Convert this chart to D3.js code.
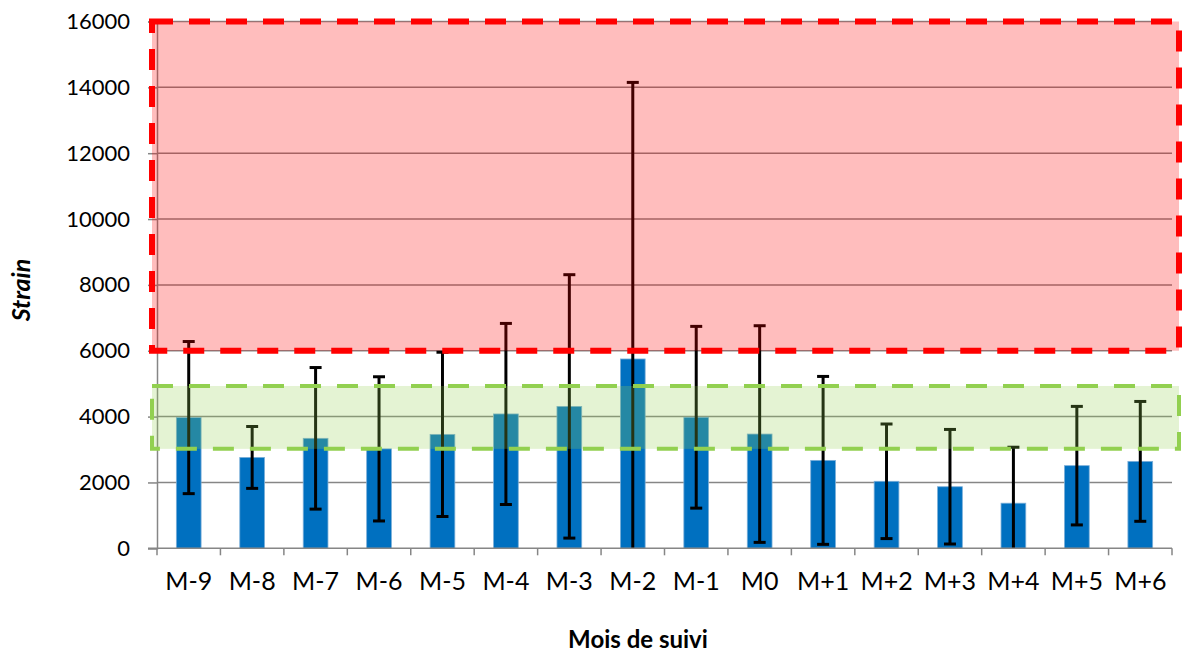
<!DOCTYPE html>
<html>
<head>
<meta charset="utf-8">
<script src="https://cdn.jsdelivr.net/npm/d3@7"></script>
<style>
  body { margin: 0; background: #fff; }
  svg { display: block; font-family: Lato, "Open Sans", sans-serif; }
</style>
</head>
<body>
<svg id="canvas" width="1182" height="656"></svg>
<script>

// months of follow-up
let months = ["M-9", "M-8", "M-7", "M-6", "M-5", "M-4", "M-3", "M-2",
              "M-1", "M0", "M+1", "M+2", "M+3", "M+4", "M+5", "M+6"];
// mean strain per month
let strainMean = [3970, 2760, 3340, 3020, 3460, 4080, 4310, 5750,
                  3980, 3470, 2670, 2035, 1870, 1370, 2510, 2640];
// standard deviation (error bars)
let strainSd = [2310, 940, 2150, 2190, 2495, 2750, 4000, 8400,
                2760, 3290, 2550, 1740, 1740, 1700, 1800, 1820];
let yTicks = [0, 2000, 4000, 6000, 8000, 10000, 12000, 14000, 16000];
// highlighted zones
let redZone = [6000, 16000];
let greenZone = [3020, 4930];

let svg = d3.select('#canvas');

const plotLeft = 157, plotRight = 1172, plotTop = 21.5, plotBottom = 548.3;

let x = d3.scaleBand()
    .domain(months)
    .range([plotLeft, plotRight])
    .paddingInner(0.61)
    .paddingOuter(0.305);

let y = d3.scaleLinear()
    .domain([0, 16000])
    .range([plotBottom, plotTop]);

let band = (plotRight - plotLeft) / months.length;

// gridlines
svg.append('g')
    .selectAll('line')
    .data(yTicks.slice(1))
    .join('line')
    .attr('x1', plotLeft)
    .attr('x2', plotRight)
    .attr('y1', d => y(d))
    .attr('y2', d => y(d))
    .attr('stroke', '#868686')
    .attr('stroke-width', 1.5);

// bars
svg.append('g')
    .selectAll('rect')
    .data(months)
    .join('rect')
    .attr('x', d => x(d))
    .attr('width', x.bandwidth())
    .attr('y', (d, i) => y(strainMean[i]))
    .attr('height', (d, i) => y(0) - y(strainMean[i]))
    .attr('fill', '#0070c0')
    .attr('stroke', '#7aaed8')
    .attr('stroke-width', 0.8);

// error bars (mean +/- sd, cut at 0)
let errs = months.map((m, i) => ({
    m: m,
    hi: strainMean[i] + strainSd[i],
    lo: Math.max(0, strainMean[i] - strainSd[i]),
    clipped: strainMean[i] - strainSd[i] <= 0
}));

let eg = svg.append('g');
let cx = d => x(d.m) + x.bandwidth() / 2;

eg.selectAll('line.stem')
    .data(errs)
    .join('line')
    .attr('class', 'stem')
    .attr('x1', cx).attr('x2', cx)
    .attr('y1', d => y(d.hi)).attr('y2', d => y(d.lo))
    .attr('stroke', '#000')
    .attr('stroke-width', 3);

eg.selectAll('line.capHi')
    .data(errs)
    .join('line')
    .attr('class', 'capHi')
    .attr('x1', d => cx(d) - 6).attr('x2', d => cx(d) + 6)
    .attr('y1', d => y(d.hi)).attr('y2', d => y(d.hi))
    .attr('stroke', '#000')
    .attr('stroke-width', 3);

eg.selectAll('line.capLo')
    .data(errs.filter(d => !d.clipped))
    .join('line')
    .attr('class', 'capLo')
    .attr('x1', d => cx(d) - 6).attr('x2', d => cx(d) + 6)
    .attr('y1', d => y(d.lo)).attr('y2', d => y(d.lo))
    .attr('stroke', '#000')
    .attr('stroke-width', 3);

// axes
let yAxis = svg.append('g')
    .attr('transform', `translate(${plotLeft},0)`)
    .call(d3.axisLeft(y).tickValues(yTicks).tickSize(9).tickPadding(18).tickFormat(d3.format('d')));
yAxis.select('.domain').attr('stroke', '#868686').attr('stroke-width', 1.5);
yAxis.selectAll('.tick line').attr('stroke', '#868686').attr('stroke-width', 1.5);
yAxis.selectAll('.tick text')
    .attr('font-size', 22)
    .attr('font-family', 'Lato, sans-serif')
    .attr('fill', '#000');

let xAxis = svg.append('g')
    .attr('transform', `translate(0,${plotBottom})`)
    .call(d3.axisBottom(x).tickSize(0).tickPadding(24));
xAxis.select('.domain').remove();
xAxis.selectAll('.tick text')
    .attr('font-size', 25)
    .attr('font-family', 'Lato, sans-serif')
    .attr('fill', '#000');

svg.append('line')
    .attr('x1', plotLeft - 9).attr('x2', plotRight)
    .attr('y1', plotBottom).attr('y2', plotBottom)
    .attr('stroke', '#868686').attr('stroke-width', 1.5);

// x ticks at band boundaries
svg.append('g')
    .selectAll('line')
    .data(d3.range(months.length + 1))
    .join('line')
    .attr('x1', i => plotLeft + i * band)
    .attr('x2', i => plotLeft + i * band)
    .attr('y1', plotBottom).attr('y2', plotBottom + 7)
    .attr('stroke', '#868686').attr('stroke-width', 1.5);

// zones on top, semi-transparent
svg.append('rect')
    .attr('x', plotLeft - 5)
    .attr('width', plotRight - plotLeft + 12)
    .attr('y', y(greenZone[1]))
    .attr('height', y(greenZone[0]) - y(greenZone[1]))
    .attr('fill', 'rgba(146,208,80,0.25)')
    .attr('stroke', '#92d050')
    .attr('stroke-width', 4)
    .attr('stroke-dasharray', '21 16');

svg.append('rect')
    .attr('x', plotLeft - 5)
    .attr('width', plotRight - plotLeft + 12)
    .attr('y', y(redZone[1]))
    .attr('height', y(redZone[0]) - y(redZone[1]))
    .attr('fill', 'rgba(255,0,0,0.26)')
    .attr('stroke', '#ff0000')
    .attr('stroke-width', 6)
    .attr('stroke-dasharray', '21 16');

// axis titles
svg.append('text')
    .attr('transform', 'translate(30,290) rotate(-90)')
    .attr('text-anchor', 'middle')
    .attr('font-size', 25)
    .attr('font-weight', 'bold')
    .attr('font-style', 'italic')
    .text('Strain');

svg.append('text')
    .attr('x', 638)
    .attr('y', 648)
    .attr('text-anchor', 'middle')
    .attr('font-size', 24)
    .attr('font-weight', 'bold')
    .text('Mois de suivi');

</script>
</body>
</html>
